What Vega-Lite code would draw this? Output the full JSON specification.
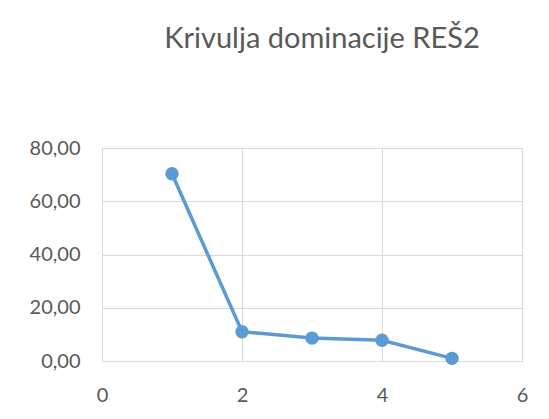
{
  "$schema": "https://vega.github.io/schema/vega-lite/v6.json",
  "autosize": "none",
  "width": 420,
  "height": 213,
  "padding": {"left": 102, "top": 148, "right": 27, "bottom": 58},
  "background": "white",
  "title": {
    "text": "Krivulja dominacije REŠ2",
    "font": "Lato",
    "fontSize": 29,
    "fontWeight": "normal",
    "color": "#595959",
    "anchor": "middle",
    "dx": 10,
    "offset": 84
  },
  "data": {
    "values": [
      {"x": 1, "y": 70.3},
      {"x": 2, "y": 11.0},
      {"x": 3, "y": 8.6},
      {"x": 4, "y": 7.8},
      {"x": 5, "y": 1.0}
    ]
  },
  "encoding": {
    "x": {
      "field": "x",
      "type": "quantitative",
      "scale": {"domain": [0, 6], "nice": false, "zero": false},
      "axis": {
        "values": [0, 2, 4, 6],
        "title": null,
        "ticks": false,
        "labelFlush": false,
        "labelPadding": 24,
        "labelFont": "Lato",
        "labelFontSize": 20,
        "labelColor": "#595959",
        "domainColor": "#d9d9d9",
        "gridColor": "#d9d9d9",
        "grid": true
      }
    },
    "y": {
      "field": "y",
      "type": "quantitative",
      "scale": {"domain": [0, 80], "nice": false},
      "axis": {
        "values": [0, 20, 40, 60, 80],
        "title": null,
        "ticks": false,
        "labelFlush": false,
        "labelPadding": 22,
        "labelFont": "Lato",
        "labelFontSize": 20,
        "labelColor": "#595959",
        "labelExpr": "replace(format(datum.value, '.2f'), '.', ',')",
        "domainColor": "#d9d9d9",
        "gridColor": "#d9d9d9",
        "grid": true
      }
    }
  },
  "layer": [
    {"mark": {"type": "line", "color": "#5b9bd5", "strokeWidth": 3.5}},
    {"mark": {"type": "circle", "color": "#5b9bd5", "size": 180, "opacity": 1}}
  ],
  "config": {"view": {"stroke": null}}
}
